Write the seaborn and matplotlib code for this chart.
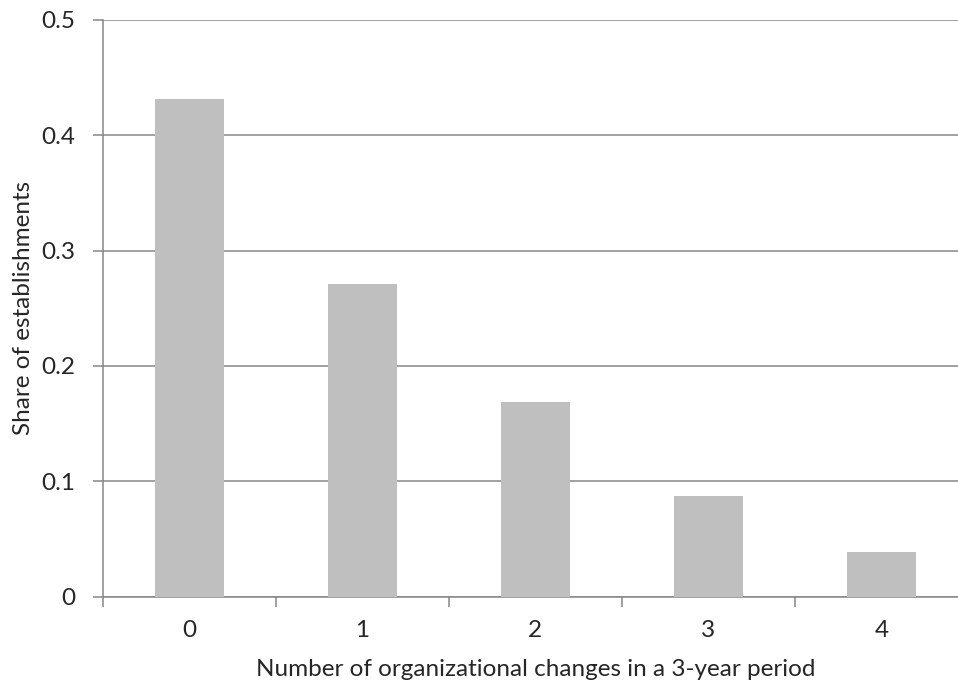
import matplotlib
matplotlib.use("Agg")
import matplotlib.pyplot as plt
import seaborn as sns
import pandas as pd
from matplotlib.ticker import FixedLocator, FuncFormatter

# data
changes = ["0", "1", "2", "3", "4"]
share = [0.431, 0.271, 0.169, 0.0876, 0.0385]

df = pd.DataFrame({"changes": changes, "share": share})

sns.set_style("white")
plt.rcParams["font.family"] = ["Lato", "DejaVu Sans"]

axis_grey = "#868686"
fs = 17.5

fig = plt.figure(figsize=(9.58, 6.85), dpi=100)
# plot area runs a little past the right edge, as in the cropped original
ax = fig.add_axes([0.1072, 0.1289, 0.9032, 0.8423])

sns.barplot(data=df, x="changes", y="share", color="#BFBFBF", width=0.4,
            saturation=1, linewidth=0, ax=ax, zorder=3)

ax.set_xlim(-0.5, len(changes) - 0.5)
ax.set_ylim(0, 0.5)

# y axis
ax.set_yticks([0, 0.1, 0.2, 0.3, 0.4, 0.5])
ax.yaxis.set_major_formatter(FuncFormatter(lambda v, p: "0" if v == 0 else f"{v:.1f}"))
ax.yaxis.grid(True, color=axis_grey, linewidth=1.1, zorder=0)
ax.set_axisbelow(True)

# x axis: tick marks between categories, labels in the middle
ax.xaxis.set_major_locator(FixedLocator([i - 0.5 for i in range(len(changes) + 1)]))
ax.xaxis.set_minor_locator(FixedLocator(range(len(changes))))
ax.set_xticklabels([""] * (len(changes) + 1))
ax.set_xticklabels(changes, minor=True)

ax.tick_params(axis="x", which="major", direction="out", length=7, width=1.1,
               color=axis_grey, bottom=True)
ax.tick_params(axis="x", which="minor", length=0, pad=17, labelsize=fs)
ax.tick_params(axis="y", direction="out", length=7, width=1.1, color=axis_grey,
               left=True, pad=13, labelsize=fs)

for side in ["top", "right"]:
    ax.spines[side].set_visible(False)
for side in ["left", "bottom"]:
    ax.spines[side].set_color(axis_grey)
    ax.spines[side].set_linewidth(1.1)

ax.set_xlabel("Number of organizational changes in a 3-year period", fontsize=fs, labelpad=13)
ax.set_ylabel("Share of establishments", fontsize=fs, labelpad=5)

fig.savefig("out.png", dpi=100)
